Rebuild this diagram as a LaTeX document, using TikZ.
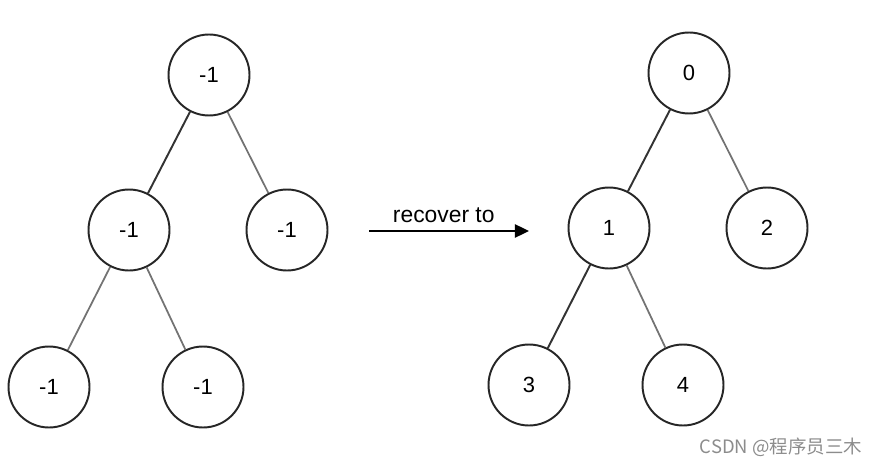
\documentclass[tikz,border=0pt]{standalone}
\usepackage{fontspec}
\setmainfont{Liberation Sans}
\newfontfamily\cjkfont{Noto Sans CJK SC}
\usetikzlibrary{arrows.meta}
\tikzset{
    treenode/.style={
        circle,
        draw=black!85,
        line width=1.1pt,
        minimum size=1.62cm,
        inner sep=0pt,
        font=\fontsize{12.5}{14}\selectfont
    },
    % links to the left child are darker than the ones to the right
    leftlink/.style={line width=1.1pt, black!80},
    rightlink/.style={line width=1pt, black!55},
    recoverarrow/.style={
        line width=1.1pt,
        black,
        ->,
        >={Triangle[length=8pt, width=7.5pt]}
    }
}
\begin{document}
\begin{tikzpicture}[x=0.02cm, y=-0.02cm]
	\useasboundingbox (0,0) rectangle (882,466);
	% tree before
	\node[treenode] (a0) at (209,75) {-1};
	\node[treenode] (a1) at (129,230) {-1};
	\node[treenode] (a2) at (287,230) {-1};
	\node[treenode] (a3) at (49,387) {-1};
	\node[treenode] (a4) at (203,387) {-1};
	\draw[leftlink] (a0) -- (a1);
	\draw[rightlink] (a0) -- (a2);
	\draw[rightlink] (a1) -- (a3);
	\draw[rightlink] (a1) -- (a4);

	% tree after
	\node[treenode] (b0) at (689,73) {0};
	\node[treenode] (b1) at (609,228) {1};
	\node[treenode] (b2) at (767,228) {2};
	\node[treenode] (b3) at (529,385) {3};
	\node[treenode] (b4) at (683,385) {4};
	\draw[leftlink] (b0) -- (b1);
	\draw[rightlink] (b0) -- (b2);
	\draw[leftlink] (b1) -- (b3);
	\draw[rightlink] (b1) -- (b4);

	\coordinate (s) at (369,231);
	\coordinate (t) at (529,231);
	\draw[recoverarrow] (s) -- node[above=1pt, xshift=-3pt, font=\fontsize{13}{15}\selectfont] (lbl) {recover to} (t);

	\node[black!45, font=\cjkfont\fontsize{10.5}{12}\selectfont] (mark) at (781,447) {CSDN @程序员三木};
\end{tikzpicture}
\end{document}
